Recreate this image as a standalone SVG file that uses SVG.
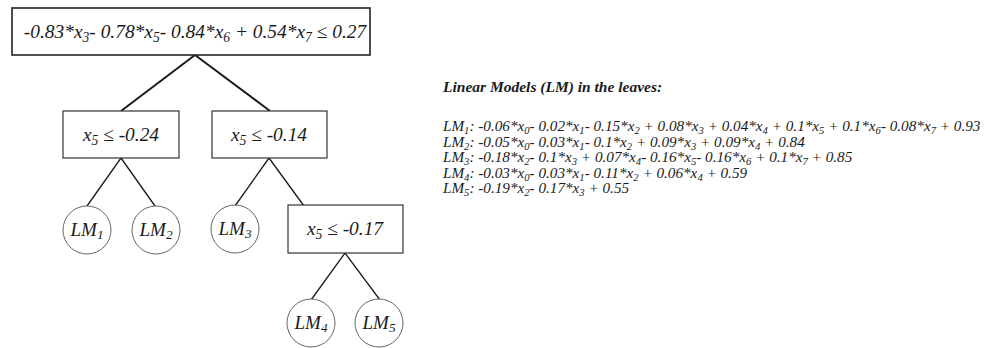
<svg xmlns="http://www.w3.org/2000/svg" width="1000" height="348" viewBox="0 0 1000 348">
<style>
text{font-family:"Liberation Serif","Times New Roman",serif;font-style:italic;fill:#1a1a1a}
.box{fill:#fff;stroke:#333;stroke-width:1.2}
.root{fill:#fff;stroke:#222;stroke-width:1.6}
.leaf{fill:#fff;stroke:#555;stroke-width:0.9}
.c1{stroke:#1a1a1a;stroke-width:2;fill:none}
.c2{stroke:#1a1a1a;stroke-width:1.3;fill:none}
.n{font-size:19.4px;text-anchor:middle}
.lm{font-size:19px;text-anchor:middle}
.eq{font-size:15.2px}
.ttl{font-size:15.5px;font-weight:bold}
.s{font-size:70%}
</style>
<g id="connectors">
<line class="c1" x1="195" y1="55" x2="121" y2="111"/>
<line class="c1" x1="195" y1="55" x2="270" y2="111"/>
<line class="c2" x1="121" y1="158" x2="87" y2="206"/>
<line class="c2" x1="121" y1="158" x2="155" y2="206"/>
<line class="c2" x1="269" y1="158" x2="235" y2="206"/>
<line class="c2" x1="269" y1="158" x2="304" y2="206"/>
<line class="c2" x1="345" y1="253" x2="311" y2="300"/>
<line class="c2" x1="345" y1="253" x2="380" y2="300"/>
</g>
<g id="root">
<rect class="root" x="12" y="8" width="358" height="47"/>
<text class="n" x="195" y="38">-0.83*x<tspan class="s" baseline-shift="-25%">3</tspan>- 0.78*x<tspan class="s" baseline-shift="-25%">5</tspan>- 0.84*x<tspan class="s" baseline-shift="-25%">6</tspan> + 0.54*x<tspan class="s" baseline-shift="-25%">7</tspan> ≤ 0.27</text>
</g>
<g id="split1">
<rect class="box" x="63" y="111" width="116" height="47"/>
<text class="n" x="121" y="141">x<tspan class="s" baseline-shift="-25%">5</tspan> ≤ -0.24</text>
</g>
<g id="split2">
<rect class="box" x="212" y="111" width="115" height="47"/>
<text class="n" x="269" y="141">x<tspan class="s" baseline-shift="-25%">5</tspan> ≤ -0.14</text>
</g>
<g id="split3">
<rect class="box" x="288" y="205" width="115" height="48"/>
<text class="n" x="345" y="235">x<tspan class="s" baseline-shift="-25%">5</tspan> ≤ -0.17</text>
</g>
<g id="lm1">
<circle class="leaf" cx="87" cy="230" r="24"/>
<text class="lm" x="87" y="236">LM<tspan class="s" baseline-shift="-25%">1</tspan></text>
</g>
<g id="lm2">
<circle class="leaf" cx="156" cy="230" r="24"/>
<text class="lm" x="156" y="236">LM<tspan class="s" baseline-shift="-25%">2</tspan></text>
</g>
<g id="lm3">
<circle class="leaf" cx="235" cy="229" r="24"/>
<text class="lm" x="235" y="235">LM<tspan class="s" baseline-shift="-25%">3</tspan></text>
</g>
<g id="lm4">
<circle class="leaf" cx="311" cy="323" r="24"/>
<text class="lm" x="311" y="329">LM<tspan class="s" baseline-shift="-25%">4</tspan></text>
</g>
<g id="lm5">
<circle class="leaf" cx="379" cy="323" r="24"/>
<text class="lm" x="379" y="329">LM<tspan class="s" baseline-shift="-25%">5</tspan></text>
</g>
<g id="legend">
<text class="ttl" x="443" y="92">Linear Models (LM) in the leaves:</text>
<text class="eq" x="443" y="131">LM<tspan class="s" baseline-shift="-25%">1</tspan>: -0.06*x<tspan class="s" baseline-shift="-25%">0</tspan>- 0.02*x<tspan class="s" baseline-shift="-25%">1</tspan>- 0.15*x<tspan class="s" baseline-shift="-25%">2</tspan> + 0.08*x<tspan class="s" baseline-shift="-25%">3</tspan> + 0.04*x<tspan class="s" baseline-shift="-25%">4</tspan> + 0.1*x<tspan class="s" baseline-shift="-25%">5</tspan> + 0.1*x<tspan class="s" baseline-shift="-25%">6</tspan>- 0.08*x<tspan class="s" baseline-shift="-25%">7</tspan> + 0.93</text>
<text class="eq" x="443" y="146.5">LM<tspan class="s" baseline-shift="-25%">2</tspan>: -0.05*x<tspan class="s" baseline-shift="-25%">0</tspan>- 0.03*x<tspan class="s" baseline-shift="-25%">1</tspan>- 0.1*x<tspan class="s" baseline-shift="-25%">2</tspan> + 0.09*x<tspan class="s" baseline-shift="-25%">3</tspan> + 0.09*x<tspan class="s" baseline-shift="-25%">4</tspan> + 0.84</text>
<text class="eq" x="443" y="162">LM<tspan class="s" baseline-shift="-25%">3</tspan>: -0.18*x<tspan class="s" baseline-shift="-25%">2</tspan>- 0.1*x<tspan class="s" baseline-shift="-25%">3</tspan> + 0.07*x<tspan class="s" baseline-shift="-25%">4</tspan>- 0.16*x<tspan class="s" baseline-shift="-25%">5</tspan>- 0.16*x<tspan class="s" baseline-shift="-25%">6</tspan> + 0.1*x<tspan class="s" baseline-shift="-25%">7</tspan> + 0.85</text>
<text class="eq" x="443" y="177.5">LM<tspan class="s" baseline-shift="-25%">4</tspan>: -0.03*x<tspan class="s" baseline-shift="-25%">0</tspan>- 0.03*x<tspan class="s" baseline-shift="-25%">1</tspan>- 0.11*x<tspan class="s" baseline-shift="-25%">2</tspan> + 0.06*x<tspan class="s" baseline-shift="-25%">4</tspan> + 0.59</text>
<text class="eq" x="443" y="193">LM<tspan class="s" baseline-shift="-25%">5</tspan>: -0.19*x<tspan class="s" baseline-shift="-25%">2</tspan>- 0.17*x<tspan class="s" baseline-shift="-25%">3</tspan> + 0.55</text>
</g>
</svg>
